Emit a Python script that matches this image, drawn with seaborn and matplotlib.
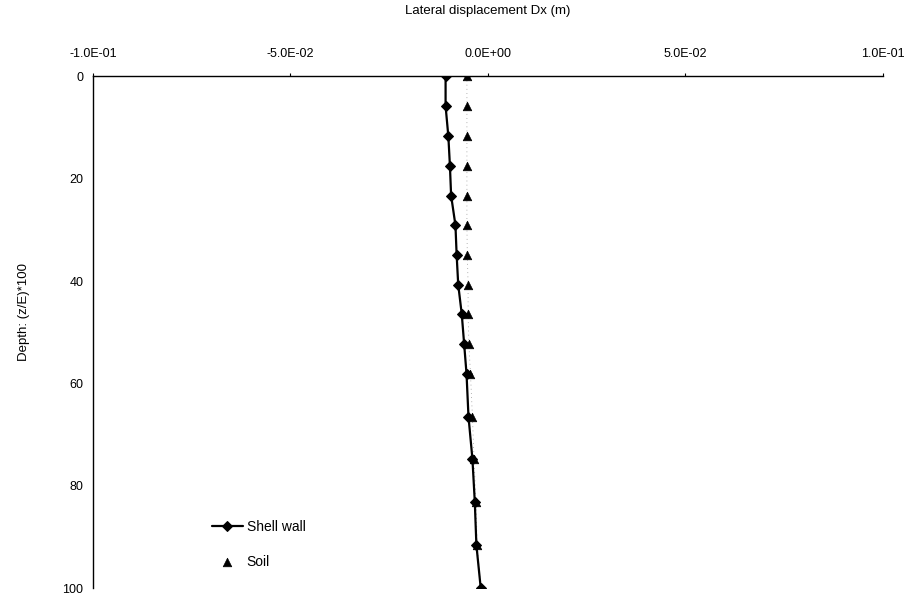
import numpy as np
import pandas as pd
import matplotlib
matplotlib.use("Agg")
import matplotlib.pyplot as plt
import seaborn as sns

# values
depth = [0, 5.8, 11.7, 17.5, 23.3, 29.1, 34.9, 40.7, 46.5, 52.3, 58.1, 66.5, 74.8, 83.2, 91.6, 100]
shell_wall = [-0.0107, -0.0107, -0.0100, -0.0096, -0.0093, -0.0082, -0.0079, -0.0075,
              -0.0066, -0.0060, -0.0054, -0.0049, -0.0039, -0.0033, -0.0029, -0.0018]
soil = [-0.0053, -0.0053, -0.0053, -0.0053, -0.0053, -0.0053, -0.0052, -0.0050,
        -0.0050, -0.0048, -0.0044, -0.0039, -0.0035, -0.0030, -0.0027, -0.0018]
x_ticks = [-0.1, -0.05, 0.0, 0.05, 0.1]
y_ticks = [0, 20, 40, 60, 80, 100]

data = pd.DataFrame({"depth": depth, "Shell wall": shell_wall, "Soil": soil})

sns.set_theme(style="white")
plt.rcParams['font.family'] = ['Liberation Sans', 'DejaVu Sans']
plt.rcParams['text.color'] = 'black'
plt.rcParams['axes.labelcolor'] = 'black'
plt.rcParams['xtick.color'] = 'black'
plt.rcParams['ytick.color'] = 'black'

fig = plt.figure(figsize=(9.11, 5.97), dpi=100)
ax = fig.add_axes([0.102, 0.015, 0.867, 0.857])

# faint dotted trace between the soil points
ax.plot(data["Soil"], data["depth"], color="0.6", lw=0.6, ls=(0, (1, 4)), zorder=1)
sns.lineplot(data=data, x="Shell wall", y="depth", sort=False, estimator=None,
             color="black", lw=1.6, marker="D", markersize=5, markeredgecolor="black",
             label="Shell wall", ax=ax, zorder=3)
sns.scatterplot(data=data, x="Soil", y="depth", color="black", marker="^",
                s=38, edgecolor="black", label="Soil", ax=ax, zorder=2)

ax.set_xlim(-0.1, 0.1)
ax.set_ylim(100, 0)
ax.set_xticks(x_ticks)
ax.set_xticklabels([f"{v:.1E}" for v in x_ticks])
ax.set_yticks(y_ticks)
ax.xaxis.tick_top()
ax.xaxis.set_label_position("top")
ax.tick_params(axis="both", labelsize=9, length=2, width=0.8,
               direction="out", pad=5)
ax.tick_params(axis="x", pad=10)

for side in ["right", "bottom"]:
    ax.spines[side].set_visible(False)
for side in ["top", "left"]:
    ax.spines[side].set_color("black")
    ax.spines[side].set_linewidth(1.0)

ax.set_xlabel("Lateral displacement Dx (m)", fontsize=9.5, labelpad=24)
ax.set_ylabel("Depth: (z/E)*100", fontsize=9.5, labelpad=20)
ax.yaxis.set_label_coords(-0.08, 0.54)

ax.legend(loc="center left", bbox_to_anchor=(0.135, 0.085), frameon=False,
          fontsize=10, labelspacing=1.5, handlelength=2.2, handletextpad=0.3)

fig.savefig("out.png", dpi=100)
